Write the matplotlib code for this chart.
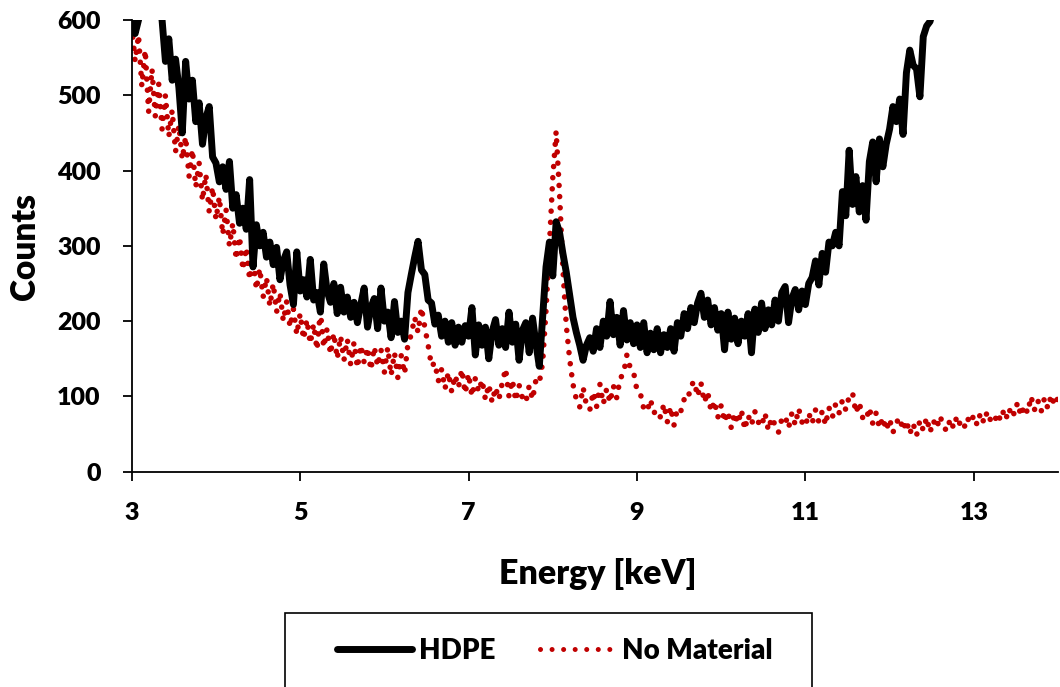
import numpy as np
import matplotlib
matplotlib.use("Agg")
import matplotlib.pyplot as plt
from matplotlib.lines import Line2D
from matplotlib.patches import Rectangle

# canais de energia (keV), passo de 0.04
energia = np.round(3.0 + 0.04 * np.arange(276), 2)

# HDPE (uma linha por keV)
hdpe = [
    600, 582, 600, 625, 640, 650, 640, 630, 615, 600, 545, 575, 520, 548, 510, 450, 545, 495, 520, 465, 490, 435, 470, 485, 418,
    410, 385, 405, 375, 412, 350, 368, 330, 350, 322, 388, 272, 328, 300, 318, 285, 305, 275, 298, 255, 280, 292, 248, 222, 292,
    240, 255, 232, 282, 228, 238, 212, 276, 240, 225, 250, 210, 245, 212, 232, 205, 225, 198, 222, 244, 192, 218, 230, 190, 244,
    200, 212, 178, 226, 185, 200, 176, 238, 262, 285, 306, 268, 262, 228, 224, 196, 208, 180, 200, 172, 198, 168, 192, 172, 194,
    180, 218, 155, 195, 168, 192, 150, 186, 202, 168, 190, 165, 212, 172, 196, 148, 188, 198, 158, 204, 170, 140, 206, 272, 305,
    260, 332, 318, 290, 265, 235, 205, 185, 168, 148, 168, 178, 160, 190, 165, 200, 180, 226, 182, 205, 168, 214, 175, 198, 170,
    195, 165, 198, 158, 184, 162, 190, 158, 182, 165, 190, 160, 198, 180, 210, 190, 218, 198, 224, 237, 205, 228, 195, 218, 188,
    210, 162, 212, 176, 204, 170, 200, 180, 210, 158, 216, 185, 224, 190, 215, 195, 228, 200, 238, 246, 198, 230, 242, 215, 240,
    222, 250, 258, 280, 248, 290, 265, 305, 300, 318, 300, 372, 340, 427, 355, 392, 345, 380, 334, 412, 438, 385, 442, 405, 435,
    455, 485, 465, 495, 448, 530, 560, 540, 535, 498, 578, 592, 598, 615, 640, 660,
]

# sem material
sem_material = [
    592, 545, 580, 512, 560, 478, 535, 472, 515, 455, 500, 445, 480, 425, 460, 415, 445, 392, 428, 378, 410, 360, 395, 345, 378,
    335, 365, 315, 348, 300, 330, 282, 312, 268, 298, 255, 285, 242, 270, 232, 258, 220, 250, 212, 238, 200, 226, 192, 216, 182,
    210, 176, 202, 170, 196, 162, 214, 165, 190, 156, 184, 150, 180, 148, 176, 142, 172, 138, 168, 145, 165, 135, 166, 140, 162,
    132, 165, 128, 158, 125, 154, 130, 170, 182, 205, 185, 218, 192, 168, 140, 145, 120, 136, 110, 132, 106, 128, 112, 136, 104,
    130, 100, 124, 106, 122, 96, 116, 92, 112, 96, 118, 137, 100, 122, 94, 115, 98, 92, 114, 96, 122, 118, 145, 215, 300,
    390, 452, 370, 270, 195, 150, 116, 96, 86, 112, 88, 82, 106, 86, 116, 90, 110, 92, 114, 98, 124, 130, 155, 138, 132,
    108, 104, 84, 80, 96, 78, 82, 72, 90, 66, 86, 62, 84, 80, 96, 94, 114, 120, 100, 118, 92, 106, 80, 94, 72,
    88, 66, 80, 58, 78, 64, 82, 56, 75, 62, 80, 66, 60, 78, 55, 72, 62, 52, 70, 74, 58, 78, 62, 84, 66,
    60, 78, 64, 82, 66, 80, 62, 85, 72, 90, 78, 95, 82, 100, 105, 78, 92, 72, 68, 85, 64, 78, 58, 72, 55,
    70, 52, 65, 72, 55, 68, 50, 64, 48, 68, 55, 72, 52, 68, 58, 74, 60, 54, 70, 58, 74, 62, 56, 72, 64,
    75, 62, 78, 65, 80, 68, 64, 78, 68, 83, 70, 86, 76, 92, 74, 88, 78, 100, 82, 95, 80, 98, 84, 102, 88,
    98,
]

x_ticks = [3, 5, 7, 9, 11, 13]
y_ticks = [0, 100, 200, 300, 400, 500, 600]

plt.rcParams['font.family'] = ['Lato', 'DejaVu Sans']
PESO = 'heavy'

VERMELHO = "#C00000"
pontilhado = (0, (0.01, 2.0))

fig = plt.figure(figsize=(10.6, 6.87), dpi=100)
ax = fig.add_axes([0.1243, 0.3134, 0.8738, 0.6575])

ax.plot(energia, sem_material, color=VERMELHO, lw=4.0, linestyle=pontilhado,
        dash_capstyle='round', zorder=2)
ax.plot(energia[:len(hdpe)], hdpe, color="black", lw=5.0,
        solid_joinstyle='round', solid_capstyle='round', zorder=3)

ax.set_xlim(3, 14)
ax.set_ylim(0, 600)
ax.set_xticks(x_ticks)
ax.set_yticks(y_ticks)
ax.spines['top'].set_visible(False)
ax.spines['right'].set_visible(False)
for s in ['left', 'bottom']:
    ax.spines[s].set_linewidth(1.3)
ax.tick_params(axis='both', direction='out', length=6.5, width=1.3,
               labelsize=18)
ax.tick_params(axis='x', pad=15)
ax.tick_params(axis='y', pad=16)
for lab in ax.get_xticklabels() + ax.get_yticklabels():
    lab.set_fontweight(PESO)

fig.text(25 / 1060, 1 - 247 / 687, "Counts", rotation=90, ha='center',
         va='center', fontsize=24, fontweight=PESO)
fig.text(598 / 1060, 1 - 574 / 687, "Energy [keV]", ha='center',
         va='center', fontsize=24.5, fontweight=PESO)

# caixa da legenda (cortada em baixo, como no original)
caixa = Rectangle((285 / 1060, -0.02), 527 / 1060, 0.02 + 1 - 613 / 687,
                  transform=fig.transFigure, fill=False, edgecolor='black',
                  lw=1.2, clip_on=False)
fig.patches.append(caixa)

h1 = Line2D([], [], color='black', lw=5.0, solid_capstyle='round')
h2 = Line2D([], [], color=VERMELHO, lw=3.6, linestyle=(0, (0.01, 2.3)),
            dash_capstyle='round')
fig.legend([h1, h2], ["HDPE", "No Material"], loc='center left',
           bbox_to_anchor=(337 / 1060, 1 - 651 / 687), ncol=2,
           frameon=False, borderpad=0, borderaxespad=0, handlelength=2.7,
           handletextpad=0.25, columnspacing=1.6,
           prop={'size': 20, 'weight': PESO})

fig.savefig("out.png", dpi=100)
